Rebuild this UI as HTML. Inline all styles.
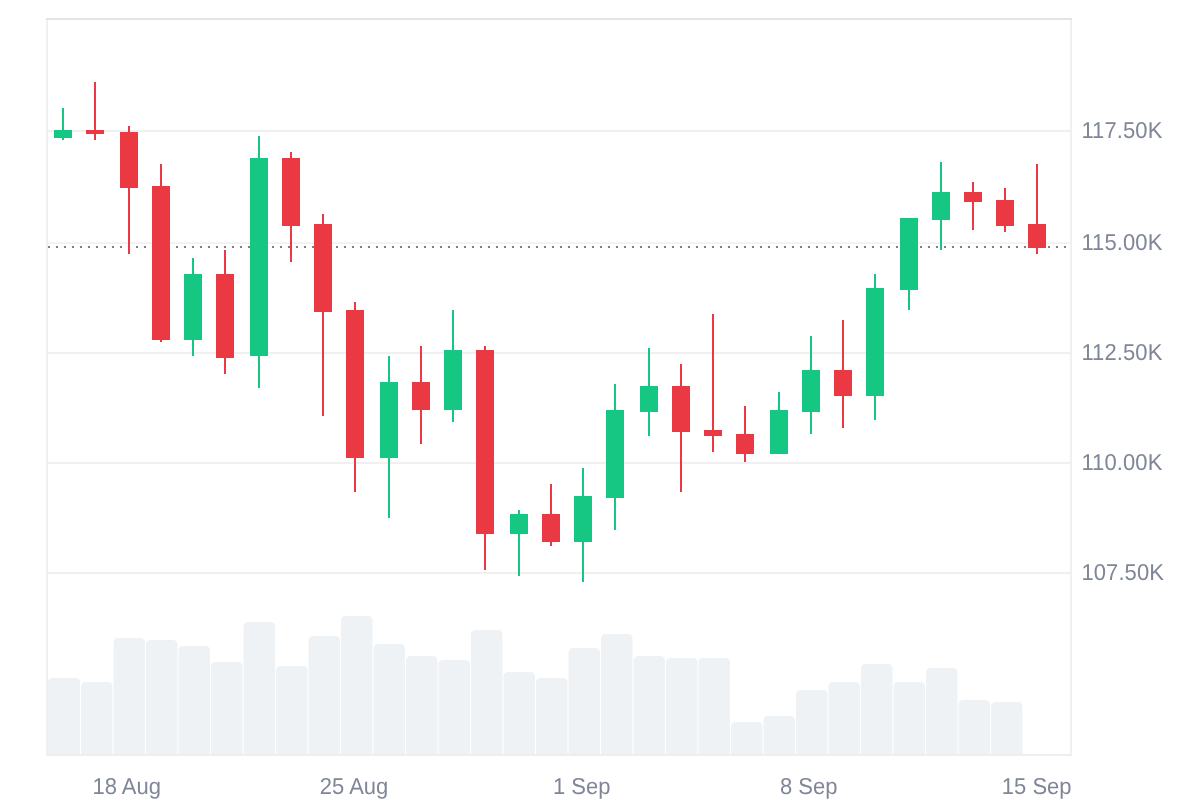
<!DOCTYPE html>
<html lang="en"><head><meta charset="utf-8"><title>Chart</title>
<style>
html,body{margin:0;padding:0;background:#fff;}
body{width:1200px;height:800px;overflow:hidden;position:relative;}
svg{position:absolute;left:0;top:0;display:block;}
text{font-family:"Liberation Sans",Arial,Helvetica,sans-serif;font-size:22px;fill:#7f8697;text-rendering:geometricPrecision;}
</style></head><body>
<svg width="1200" height="800" viewBox="0 0 1200 800">

<g shape-rendering="crispEdges">
<rect x="48" y="130" width="1022" height="2" fill="#f0f0f0"/>
<rect x="48" y="242" width="1022" height="2" fill="#f4f4f4"/>
<rect x="48" y="352" width="1022" height="2" fill="#f0f0f0"/>
<rect x="48" y="462" width="1022" height="2" fill="#f0f0f0"/>
<rect x="48" y="572" width="1022" height="2" fill="#f0f0f0"/>
</g>
<g fill="#eff2f5">
<path d="M48.00 755V682.5A4.5 4.5 0 0 1 52.50 678H75.50A4.5 4.5 0 0 1 80.00 682.5V755Z"/>
<path d="M81.00 755V686.5A4.5 4.5 0 0 1 85.50 682H108.00A4.5 4.5 0 0 1 112.50 686.5V755Z"/>
<path d="M113.50 755V642.5A4.5 4.5 0 0 1 118.00 638H140.50A4.5 4.5 0 0 1 145.00 642.5V755Z"/>
<path d="M146.00 755V644.5A4.5 4.5 0 0 1 150.50 640H173.00A4.5 4.5 0 0 1 177.50 644.5V755Z"/>
<path d="M178.50 755V650.5A4.5 4.5 0 0 1 183.00 646H205.50A4.5 4.5 0 0 1 210.00 650.5V755Z"/>
<path d="M211.00 755V666.5A4.5 4.5 0 0 1 215.50 662H238.00A4.5 4.5 0 0 1 242.50 666.5V755Z"/>
<path d="M243.50 755V626.5A4.5 4.5 0 0 1 248.00 622H270.50A4.5 4.5 0 0 1 275.00 626.5V755Z"/>
<path d="M276.00 755V670.5A4.5 4.5 0 0 1 280.50 666H303.00A4.5 4.5 0 0 1 307.50 670.5V755Z"/>
<path d="M308.50 755V640.5A4.5 4.5 0 0 1 313.00 636H335.50A4.5 4.5 0 0 1 340.00 640.5V755Z"/>
<path d="M341.00 755V620.5A4.5 4.5 0 0 1 345.50 616H368.00A4.5 4.5 0 0 1 372.50 620.5V755Z"/>
<path d="M373.50 755V648.5A4.5 4.5 0 0 1 378.00 644H400.50A4.5 4.5 0 0 1 405.00 648.5V755Z"/>
<path d="M406.00 755V660.5A4.5 4.5 0 0 1 410.50 656H433.00A4.5 4.5 0 0 1 437.50 660.5V755Z"/>
<path d="M438.50 755V664.5A4.5 4.5 0 0 1 443.00 660H465.50A4.5 4.5 0 0 1 470.00 664.5V755Z"/>
<path d="M471.00 755V634.5A4.5 4.5 0 0 1 475.50 630H498.00A4.5 4.5 0 0 1 502.50 634.5V755Z"/>
<path d="M503.50 755V676.5A4.5 4.5 0 0 1 508.00 672H530.50A4.5 4.5 0 0 1 535.00 676.5V755Z"/>
<path d="M536.00 755V682.5A4.5 4.5 0 0 1 540.50 678H563.00A4.5 4.5 0 0 1 567.50 682.5V755Z"/>
<path d="M568.50 755V652.5A4.5 4.5 0 0 1 573.00 648H595.50A4.5 4.5 0 0 1 600.00 652.5V755Z"/>
<path d="M601.00 755V638.5A4.5 4.5 0 0 1 605.50 634H628.00A4.5 4.5 0 0 1 632.50 638.5V755Z"/>
<path d="M633.50 755V660.5A4.5 4.5 0 0 1 638.00 656H660.50A4.5 4.5 0 0 1 665.00 660.5V755Z"/>
<path d="M666.00 755V662.5A4.5 4.5 0 0 1 670.50 658H693.00A4.5 4.5 0 0 1 697.50 662.5V755Z"/>
<path d="M698.50 755V662.5A4.5 4.5 0 0 1 703.00 658H725.50A4.5 4.5 0 0 1 730.00 662.5V755Z"/>
<path d="M731.00 755V726.5A4.5 4.5 0 0 1 735.50 722H758.00A4.5 4.5 0 0 1 762.50 726.5V755Z"/>
<path d="M763.50 755V720.5A4.5 4.5 0 0 1 768.00 716H790.50A4.5 4.5 0 0 1 795.00 720.5V755Z"/>
<path d="M796.00 755V694.5A4.5 4.5 0 0 1 800.50 690H823.00A4.5 4.5 0 0 1 827.50 694.5V755Z"/>
<path d="M828.50 755V686.5A4.5 4.5 0 0 1 833.00 682H855.50A4.5 4.5 0 0 1 860.00 686.5V755Z"/>
<path d="M861.00 755V668.5A4.5 4.5 0 0 1 865.50 664H888.00A4.5 4.5 0 0 1 892.50 668.5V755Z"/>
<path d="M893.50 755V686.5A4.5 4.5 0 0 1 898.00 682H920.50A4.5 4.5 0 0 1 925.00 686.5V755Z"/>
<path d="M926.00 755V672.5A4.5 4.5 0 0 1 930.50 668H953.00A4.5 4.5 0 0 1 957.50 672.5V755Z"/>
<path d="M958.50 755V704.5A4.5 4.5 0 0 1 963.00 700H985.50A4.5 4.5 0 0 1 990.00 704.5V755Z"/>
<path d="M991.00 755V706.5A4.5 4.5 0 0 1 995.50 702H1018.00A4.5 4.5 0 0 1 1022.50 706.5V755Z"/>
</g>
<g shape-rendering="crispEdges">
<rect x="46" y="18" width="1026" height="2" fill="#e4e4e4"/>
<rect x="46" y="20" width="2" height="736" fill="#f0f0f0"/>
<rect x="1070" y="20" width="2" height="736" fill="#f0f0f0"/>
<rect x="46" y="754" width="1026" height="2" fill="#eeeeee"/>
<g fill="#808080">
<rect x="48" y="246" width="2" height="2"/>
<rect x="56" y="246" width="2" height="2"/>
<rect x="64" y="246" width="2" height="2"/>
<rect x="72" y="246" width="2" height="2"/>
<rect x="80" y="246" width="2" height="2"/>
<rect x="88" y="246" width="2" height="2"/>
<rect x="96" y="246" width="2" height="2"/>
<rect x="104" y="246" width="2" height="2"/>
<rect x="112" y="246" width="2" height="2"/>
<rect x="120" y="246" width="2" height="2"/>
<rect x="128" y="246" width="2" height="2"/>
<rect x="136" y="246" width="2" height="2"/>
<rect x="144" y="246" width="2" height="2"/>
<rect x="152" y="246" width="2" height="2"/>
<rect x="160" y="246" width="2" height="2"/>
<rect x="168" y="246" width="2" height="2"/>
<rect x="176" y="246" width="2" height="2"/>
<rect x="184" y="246" width="2" height="2"/>
<rect x="192" y="246" width="2" height="2"/>
<rect x="200" y="246" width="2" height="2"/>
<rect x="208" y="246" width="2" height="2"/>
<rect x="216" y="246" width="2" height="2"/>
<rect x="224" y="246" width="2" height="2"/>
<rect x="232" y="246" width="2" height="2"/>
<rect x="240" y="246" width="2" height="2"/>
<rect x="248" y="246" width="2" height="2"/>
<rect x="256" y="246" width="2" height="2"/>
<rect x="264" y="246" width="2" height="2"/>
<rect x="272" y="246" width="2" height="2"/>
<rect x="280" y="246" width="2" height="2"/>
<rect x="288" y="246" width="2" height="2"/>
<rect x="296" y="246" width="2" height="2"/>
<rect x="304" y="246" width="2" height="2"/>
<rect x="312" y="246" width="2" height="2"/>
<rect x="320" y="246" width="2" height="2"/>
<rect x="328" y="246" width="2" height="2"/>
<rect x="336" y="246" width="2" height="2"/>
<rect x="344" y="246" width="2" height="2"/>
<rect x="352" y="246" width="2" height="2"/>
<rect x="360" y="246" width="2" height="2"/>
<rect x="368" y="246" width="2" height="2"/>
<rect x="376" y="246" width="2" height="2"/>
<rect x="384" y="246" width="2" height="2"/>
<rect x="392" y="246" width="2" height="2"/>
<rect x="400" y="246" width="2" height="2"/>
<rect x="408" y="246" width="2" height="2"/>
<rect x="416" y="246" width="2" height="2"/>
<rect x="424" y="246" width="2" height="2"/>
<rect x="432" y="246" width="2" height="2"/>
<rect x="440" y="246" width="2" height="2"/>
<rect x="448" y="246" width="2" height="2"/>
<rect x="456" y="246" width="2" height="2"/>
<rect x="464" y="246" width="2" height="2"/>
<rect x="472" y="246" width="2" height="2"/>
<rect x="480" y="246" width="2" height="2"/>
<rect x="488" y="246" width="2" height="2"/>
<rect x="496" y="246" width="2" height="2"/>
<rect x="504" y="246" width="2" height="2"/>
<rect x="512" y="246" width="2" height="2"/>
<rect x="520" y="246" width="2" height="2"/>
<rect x="528" y="246" width="2" height="2"/>
<rect x="536" y="246" width="2" height="2"/>
<rect x="544" y="246" width="2" height="2"/>
<rect x="552" y="246" width="2" height="2"/>
<rect x="560" y="246" width="2" height="2"/>
<rect x="568" y="246" width="2" height="2"/>
<rect x="576" y="246" width="2" height="2"/>
<rect x="584" y="246" width="2" height="2"/>
<rect x="592" y="246" width="2" height="2"/>
<rect x="600" y="246" width="2" height="2"/>
<rect x="608" y="246" width="2" height="2"/>
<rect x="616" y="246" width="2" height="2"/>
<rect x="624" y="246" width="2" height="2"/>
<rect x="632" y="246" width="2" height="2"/>
<rect x="640" y="246" width="2" height="2"/>
<rect x="648" y="246" width="2" height="2"/>
<rect x="656" y="246" width="2" height="2"/>
<rect x="664" y="246" width="2" height="2"/>
<rect x="672" y="246" width="2" height="2"/>
<rect x="680" y="246" width="2" height="2"/>
<rect x="688" y="246" width="2" height="2"/>
<rect x="696" y="246" width="2" height="2"/>
<rect x="704" y="246" width="2" height="2"/>
<rect x="712" y="246" width="2" height="2"/>
<rect x="720" y="246" width="2" height="2"/>
<rect x="728" y="246" width="2" height="2"/>
<rect x="736" y="246" width="2" height="2"/>
<rect x="744" y="246" width="2" height="2"/>
<rect x="752" y="246" width="2" height="2"/>
<rect x="760" y="246" width="2" height="2"/>
<rect x="768" y="246" width="2" height="2"/>
<rect x="776" y="246" width="2" height="2"/>
<rect x="784" y="246" width="2" height="2"/>
<rect x="792" y="246" width="2" height="2"/>
<rect x="800" y="246" width="2" height="2"/>
<rect x="808" y="246" width="2" height="2"/>
<rect x="816" y="246" width="2" height="2"/>
<rect x="824" y="246" width="2" height="2"/>
<rect x="832" y="246" width="2" height="2"/>
<rect x="840" y="246" width="2" height="2"/>
<rect x="848" y="246" width="2" height="2"/>
<rect x="856" y="246" width="2" height="2"/>
<rect x="864" y="246" width="2" height="2"/>
<rect x="872" y="246" width="2" height="2"/>
<rect x="880" y="246" width="2" height="2"/>
<rect x="888" y="246" width="2" height="2"/>
<rect x="896" y="246" width="2" height="2"/>
<rect x="904" y="246" width="2" height="2"/>
<rect x="912" y="246" width="2" height="2"/>
<rect x="920" y="246" width="2" height="2"/>
<rect x="928" y="246" width="2" height="2"/>
<rect x="936" y="246" width="2" height="2"/>
<rect x="944" y="246" width="2" height="2"/>
<rect x="952" y="246" width="2" height="2"/>
<rect x="960" y="246" width="2" height="2"/>
<rect x="968" y="246" width="2" height="2"/>
<rect x="976" y="246" width="2" height="2"/>
<rect x="984" y="246" width="2" height="2"/>
<rect x="992" y="246" width="2" height="2"/>
<rect x="1000" y="246" width="2" height="2"/>
<rect x="1008" y="246" width="2" height="2"/>
<rect x="1016" y="246" width="2" height="2"/>
<rect x="1024" y="246" width="2" height="2"/>
<rect x="1032" y="246" width="2" height="2"/>
<rect x="1040" y="246" width="2" height="2"/>
<rect x="1048" y="246" width="2" height="2"/>
<rect x="1056" y="246" width="2" height="2"/>
<rect x="1064" y="246" width="2" height="2"/>
</g>
<g fill="#16c784"><rect x="62" y="108" width="2" height="32"/><rect x="54" y="130" width="18" height="8"/></g>
<g fill="#ea3943"><rect x="94" y="82" width="2" height="58"/><rect x="86" y="130" width="18" height="4"/></g>
<g fill="#ea3943"><rect x="128" y="126" width="2" height="128"/><rect x="120" y="132" width="18" height="56"/></g>
<g fill="#ea3943"><rect x="160" y="164" width="2" height="178"/><rect x="152" y="186" width="18" height="154"/></g>
<g fill="#16c784"><rect x="192" y="258" width="2" height="98"/><rect x="184" y="274" width="18" height="66"/></g>
<g fill="#ea3943"><rect x="224" y="250" width="2" height="124"/><rect x="216" y="274" width="18" height="84"/></g>
<g fill="#16c784"><rect x="258" y="136" width="2" height="252"/><rect x="250" y="158" width="18" height="198"/></g>
<g fill="#ea3943"><rect x="290" y="152" width="2" height="110"/><rect x="282" y="158" width="18" height="68"/></g>
<g fill="#ea3943"><rect x="322" y="214" width="2" height="202"/><rect x="314" y="224" width="18" height="88"/></g>
<g fill="#ea3943"><rect x="354" y="302" width="2" height="190"/><rect x="346" y="310" width="18" height="148"/></g>
<g fill="#16c784"><rect x="388" y="356" width="2" height="162"/><rect x="380" y="382" width="18" height="76"/></g>
<g fill="#ea3943"><rect x="420" y="346" width="2" height="98"/><rect x="412" y="382" width="18" height="28"/></g>
<g fill="#16c784"><rect x="452" y="310" width="2" height="112"/><rect x="444" y="350" width="18" height="60"/></g>
<g fill="#ea3943"><rect x="484" y="346" width="2" height="224"/><rect x="476" y="350" width="18" height="184"/></g>
<g fill="#16c784"><rect x="518" y="510" width="2" height="66"/><rect x="510" y="514" width="18" height="20"/></g>
<g fill="#ea3943"><rect x="550" y="484" width="2" height="62"/><rect x="542" y="514" width="18" height="28"/></g>
<g fill="#16c784"><rect x="582" y="468" width="2" height="114"/><rect x="574" y="496" width="18" height="46"/></g>
<g fill="#16c784"><rect x="614" y="384" width="2" height="146"/><rect x="606" y="410" width="18" height="88"/></g>
<g fill="#16c784"><rect x="648" y="348" width="2" height="88"/><rect x="640" y="386" width="18" height="26"/></g>
<g fill="#ea3943"><rect x="680" y="364" width="2" height="128"/><rect x="672" y="386" width="18" height="46"/></g>
<g fill="#ea3943"><rect x="712" y="314" width="2" height="138"/><rect x="704" y="430" width="18" height="6"/></g>
<g fill="#ea3943"><rect x="744" y="406" width="2" height="56"/><rect x="736" y="434" width="18" height="20"/></g>
<g fill="#16c784"><rect x="778" y="392" width="2" height="62"/><rect x="770" y="410" width="18" height="44"/></g>
<g fill="#16c784"><rect x="810" y="336" width="2" height="98"/><rect x="802" y="370" width="18" height="42"/></g>
<g fill="#ea3943"><rect x="842" y="320" width="2" height="108"/><rect x="834" y="370" width="18" height="26"/></g>
<g fill="#16c784"><rect x="874" y="274" width="2" height="146"/><rect x="866" y="288" width="18" height="108"/></g>
<g fill="#16c784"><rect x="908" y="218" width="2" height="92"/><rect x="900" y="218" width="18" height="72"/></g>
<g fill="#16c784"><rect x="940" y="162" width="2" height="88"/><rect x="932" y="192" width="18" height="28"/></g>
<g fill="#ea3943"><rect x="972" y="182" width="2" height="48"/><rect x="964" y="192" width="18" height="10"/></g>
<g fill="#ea3943"><rect x="1004" y="188" width="2" height="44"/><rect x="996" y="200" width="18" height="26"/></g>
<g fill="#ea3943"><rect x="1036" y="164" width="2" height="90"/><rect x="1028" y="224" width="18" height="24"/></g>
</g>
<text transform="translate(1081.4 137.6) scale(1 1.045)" letter-spacing="0.1">117.50K</text>
<text transform="translate(1081.4 249.6) scale(1 1.045)" letter-spacing="0.1">115.00K</text>
<text transform="translate(1081.4 359.6) scale(1 1.045)" letter-spacing="0.1">112.50K</text>
<text transform="translate(1081.4 469.6) scale(1 1.045)" letter-spacing="0.1">110.00K</text>
<text transform="translate(1081.4 579.6) scale(1 1.045)" letter-spacing="0.1">107.50K</text>
<text transform="translate(92.4 793.7) scale(1 1.045)">18 Aug</text>
<text transform="translate(319.8 793.7) scale(1 1.045)">25 Aug</text>
<text transform="translate(552.9 793.7) scale(1 1.045)">1 Sep</text>
<text transform="translate(780 793.7) scale(1 1.045)">8 Sep</text>
<text transform="translate(1001.8 793.7) scale(1 1.045)">15 Sep</text>
</svg></body></html>
